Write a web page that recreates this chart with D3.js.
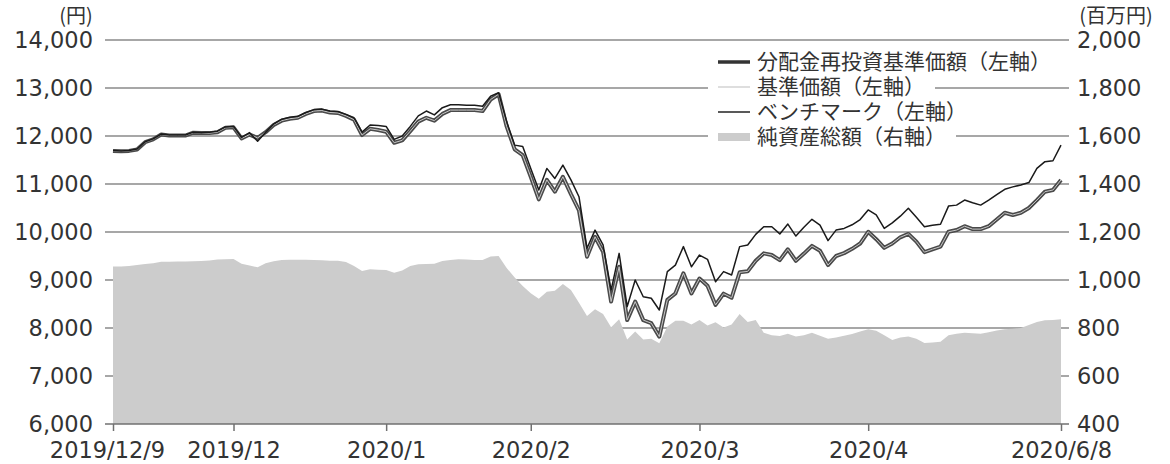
<!DOCTYPE html>
<html>
<head>
<meta charset="utf-8">
<script src="https://cdn.jsdelivr.net/npm/d3@7"></script>
<style>
body { margin: 0; background: #fff; }
text { fill: #333; }
</style>
</head>
<body>
<script>
// x = trading day index, 0 = 2019/12/9 ... 118 = 2020/6/8
var tickDays = [0, 15, 34, 52, 73, 94, 118];
var tickLabels = ["2019/12/9", "2019/12", "2020/1", "2020/2", "2020/3", "2020/4", "2020/6/8"];
var leftTicks = [6000, 7000, 8000, 9000, 10000, 11000, 12000, 13000, 14000];
var rightTicks = [400, 600, 800, 1000, 1200, 1400, 1600, 1800, 2000];

var seriesNames = ["分配金再投資基準価額（左軸）", "基準価額（左軸）", "ベンチマーク（左軸）", "純資産総額（右軸）"];

// 分配金再投資基準価額 (円)
var reinvested = [
  11690, 11680, 11690, 11720, 11870, 11930, 12030, 12010, 12010, 12010,
  12070, 12060, 12060, 12080, 12170, 12180, 11950, 12030, 11960, 12080,
  12230, 12320, 12360, 12380, 12460, 12520, 12530, 12490, 12480, 12420,
  12340, 12020, 12150, 12125, 12090, 11860, 11910, 12100, 12300, 12380,
  12320, 12460, 12540, 12540, 12540, 12540, 12520, 12760, 12870, 12200,
  11720, 11600, 11150, 10680, 11085, 10840, 11150, 10790, 10450, 9485,
  9900, 9590, 8550, 9275, 8165, 8550, 8165, 8100, 7820, 8585,
  8720, 9140, 8720, 9030, 8880, 8480, 8715, 8630, 9160, 9180,
  9400, 9555, 9520, 9415, 9640, 9400, 9550, 9710, 9610, 9310,
  9500, 9560, 9650, 9760, 10005, 9850, 9670, 9760, 9890, 9960,
  9800, 9580, 9640, 9695, 10005, 10040, 10120, 10060, 10060, 10120,
  10260, 10400, 10355, 10400, 10500, 10665, 10840, 10875, 11085
];

// 基準価額 — no distribution in the period, the line sits on top of the one above
var basePrice = reinvested;

// ベンチマーク (円)
var benchmark = [
  11700, 11690, 11700, 11730, 11880, 11940, 12040, 12020, 12020, 12020,
  12080, 12070, 12080, 12100, 12190, 12200, 11970, 12070, 11890, 12080,
  12250, 12350, 12390, 12410, 12490, 12550, 12560, 12520, 12510, 12450,
  12380, 12080, 12230, 12220, 12200, 11930, 12000, 12200, 12420, 12520,
  12440, 12590, 12650, 12650, 12640, 12640, 12620, 12830, 12900, 12300,
  11810, 11780, 11325, 10875, 11325, 11115, 11395, 11085, 10735, 9660,
  10040, 9730, 8790, 9555, 8445, 9000, 8650, 8620, 8375, 9175,
  9310, 9695, 9275, 9520, 9430, 8965, 9175, 9105, 9695, 9730,
  9950, 10110, 10110, 9960, 10165, 9915, 10100, 10265, 10145, 9820,
  10040, 10075, 10150, 10260, 10460, 10355, 10075, 10190, 10330, 10495,
  10305, 10110, 10140, 10160, 10540, 10560, 10665, 10610, 10560, 10665,
  10780, 10890, 10940, 10980, 11030, 11325, 11465, 11485, 11810
];

// 純資産総額 (百万円)
var netAssets = [
  1056, 1056, 1058, 1062, 1067, 1070, 1076, 1076, 1077, 1077,
  1078, 1079, 1081, 1085, 1086, 1087, 1068, 1060, 1053, 1070,
  1078, 1083, 1084, 1084, 1084, 1083, 1082, 1080, 1080, 1075,
  1058, 1037, 1045, 1043, 1042, 1030, 1040, 1058, 1066, 1067,
  1068, 1079, 1083, 1086, 1085, 1083, 1083, 1098, 1100, 1050,
  1010, 975, 945, 922, 951, 955, 983, 958, 905, 850,
  878, 858, 803, 836, 752, 785, 752, 755, 736, 806,
  830, 830, 815, 833, 810, 824, 802, 815, 858, 825,
  833, 780, 770, 767, 776, 765, 770, 780, 768, 755,
  760, 768, 775, 785, 795, 789, 770, 750, 760, 765,
  755, 738, 740, 743, 770, 776, 780, 778, 776, 782,
  790, 795, 797, 800, 812, 825, 832, 833, 836
];

var width = 1170, height = 464;
var plotLeft = 113, plotRight = 1061, plotTop = 40, plotBottom = 424;
var numFont = "'DejaVu Sans', sans-serif";
var jpFont = "'Noto Sans CJK JP', sans-serif";

var svg = d3.select("body").append("svg")
  .attr("width", width)
  .attr("height", height);

var x = d3.scaleLinear().domain([0, 118]).range([plotLeft, plotRight]);
var yL = d3.scaleLinear().domain([6000, 14000]).range([plotBottom, plotTop]);
var yR = d3.scaleLinear().domain([400, 2000]).range([plotBottom, plotTop]);

// gridlines (sit under the area)
svg.append("g").selectAll("line")
  .data(leftTicks.slice(1))
  .enter().append("line")
  .attr("x1", plotLeft - 8)
  .attr("x2", plotRight + 8)
  .attr("y1", d => yL(d))
  .attr("y2", d => yL(d))
  .attr("stroke", "#8a8a8a")
  .attr("stroke-width", 1.4);

var area = d3.area()
  .x((d, i) => x(i))
  .y0(yR(400))
  .y1(d => yR(d));

svg.append("path")
  .datum(netAssets)
  .attr("d", area)
  .attr("fill", "#cccccc");

var line = d3.line()
  .x((d, i) => x(i))
  .y(d => yL(d));

svg.append("path")
  .datum(reinvested)
  .attr("d", line)
  .attr("fill", "none")
  .attr("stroke", "#4a4a4a")
  .attr("stroke-width", 4)
  .attr("stroke-linejoin", "round");

svg.append("path")
  .datum(basePrice)
  .attr("d", line)
  .attr("fill", "none")
  .attr("stroke", "#c8c8c8")
  .attr("stroke-width", 1)
  .attr("stroke-linejoin", "round");

svg.append("path")
  .datum(benchmark)
  .attr("d", line)
  .attr("fill", "none")
  .attr("stroke", "#1a1a1a")
  .attr("stroke-width", 1.5)
  .attr("stroke-linejoin", "round");

// bottom axis line, with the stubs of the 6,000 / 400 ticks
svg.append("line")
  .attr("x1", plotLeft - 8)
  .attr("x2", plotRight + 8)
  .attr("y1", plotBottom)
  .attr("y2", plotBottom)
  .attr("stroke", "#707070")
  .attr("stroke-width", 1.5);

var xAxis = svg.append("g")
  .attr("transform", "translate(0," + plotBottom + ")")
  .call(d3.axisBottom(x)
    .tickValues(tickDays)
    .tickFormat((d, i) => tickLabels[i])
    .tickSize(7)
    .tickPadding(11));
xAxis.select(".domain").remove();
xAxis.selectAll("line").attr("stroke", "#707070").attr("stroke-width", 1.5);
xAxis.selectAll("text")
  .attr("font-family", numFont)
  .attr("font-size", 22.5)
  .attr("fill", "#333")
  .attr("dx", (d, i) => i == 0 ? -6 : 0);

var yAxisL = svg.append("g")
  .attr("transform", "translate(" + (plotLeft - 8) + ",0)")
  .call(d3.axisLeft(yL).tickValues(leftTicks).tickFormat(d3.format(",")).tickSize(0).tickPadding(12));
yAxisL.select(".domain").remove();
yAxisL.selectAll("text")
  .attr("font-family", numFont)
  .attr("font-size", 22.5)
  .attr("fill", "#333");

var yAxisR = svg.append("g")
  .attr("transform", "translate(" + (plotRight + 8) + ",0)")
  .call(d3.axisRight(yR).tickValues(rightTicks).tickFormat(d3.format(",")).tickSize(0).tickPadding(8));
yAxisR.select(".domain").remove();
yAxisR.selectAll("text")
  .attr("font-family", numFont)
  .attr("font-size", 22.5)
  .attr("fill", "#333");

svg.append("text")
  .attr("x", 76)
  .attr("y", 23)
  .attr("text-anchor", "middle")
  .attr("font-family", jpFont)
  .attr("font-size", 20)
  .text("(円)");

svg.append("text")
  .attr("x", 1116)
  .attr("y", 23)
  .attr("text-anchor", "middle")
  .attr("font-family", jpFont)
  .attr("font-size", 20)
  .text("(百万円)");

// legend
var legend = svg.append("g");
var rowY = [62, 87, 112, 137];
seriesNames.forEach(function(name, i) {
  var row = legend.append("g").attr("transform", "translate(0," + rowY[i] + ")");
  var bg = row.append("rect").attr("fill", "#fff");
  if (i == 3) {
    row.append("rect")
      .attr("x", 718).attr("y", -4)
      .attr("width", 32).attr("height", 8)
      .attr("fill", "#cccccc");
  } else {
    row.append("line")
      .attr("x1", 718).attr("x2", 750)
      .attr("stroke", ["#333", "#bdbdbd", "#222"][i])
      .attr("stroke-width", [3.5, 1, 1.5][i]);
  }
  var t = row.append("text")
    .attr("x", 757)
    .attr("dy", "0.35em")
    .attr("font-family", jpFont)
    .attr("font-size", 21)
    .text(name);
  var w = t.node().getComputedTextLength();
  bg.attr("x", 708).attr("y", -12).attr("width", 757 + w + 10 - 708).attr("height", 24);
});
</script>
</body>
</html>
